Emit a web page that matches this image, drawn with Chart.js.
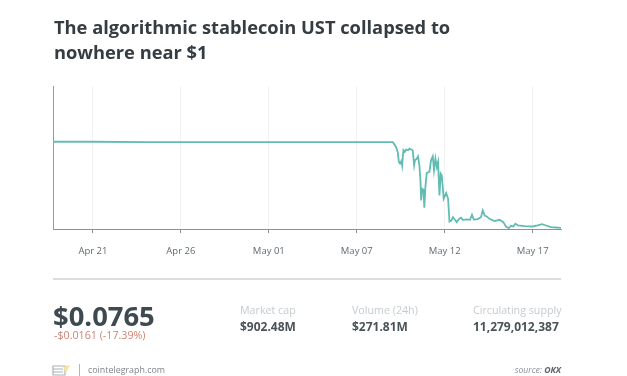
<!DOCTYPE html>
<html>
<head>
<meta charset="utf-8">
<script src="https://cdn.jsdelivr.net/npm/chart.js@4"></script>
<style>
  html, body { margin: 0; padding: 0; background: #fff; }
  body { width: 627px; height: 376px; position: relative; overflow: hidden; font-family: "Open Sans", sans-serif; }
  canvas { position: absolute; left: 0; top: 0; }
  .t { position: absolute; white-space: nowrap; line-height: 1; }
  .head { left: 54px; font-size: 18.3px; font-weight: 700; color: #353d42; }
  .lab { top: 305px; font-size: 10.7px; color: #c5cbcf; }
  .val { top: 321px; font-size: 12px; font-weight: 700; color: #4a5358; }
  #rule { position: absolute; left: 53px; top: 278px; width: 508px; height: 1.5px; background: #dcdcdc; }
  #sep { position: absolute; left: 79px; top: 364px; width: 1px; height: 12px; background: #b5b5b5; }
</style>
</head>
<body>
<canvas id="c" width="627" height="376"></canvas>
<div class="t head" style="top:18px">The algorithmic stablecoin UST collapsed to</div>
<div class="t head" style="top:43px">nowhere near $1</div>
<div id="rule"></div>
<div class="t" style="left:53px;top:302px;font-size:27.4px;font-weight:700;color:#3f4a50">$0.0765</div>
<div class="t" style="left:54px;top:330px;font-size:10.7px;color:#d08272">-$0.0161 (-17.39%)</div>
<div class="t lab" style="left:240px">Market cap</div>
<div class="t val" style="left:240px">$902.48M</div>
<div class="t lab" style="left:352px">Volume (24h)</div>
<div class="t val" style="left:352px">$271.81M</div>
<div class="t lab" style="left:473px">Circulating supply</div>
<div class="t val" style="left:473px">11,279,012,387</div>
<svg style="position:absolute;left:52px;top:364px" width="19" height="12">
  <path d="M1 2 H13 V11 H1 Z" fill="none" stroke="#aab2b5" stroke-width="1.2"/>
  <path d="M1 5 H11 M1 8 H11" stroke="#aab2b5" stroke-width="1"/>
  <path d="M11 3 L18 1 L14 9 Z" fill="#f4e3a1"/>
</svg>
<div id="sep"></div>
<div class="t" style="left:88px;top:366px;font-size:8.9px;color:#7d868a">cointelegraph.com</div>
<div class="t" style="right:66px;top:366px;font-size:8.6px;font-style:italic;color:#8a9195">source: <b style="color:#5a6367">OKX</b></div>
<script>
// x values are days counted from the first tick, y values are price in USD
const days = [-2.27, 0, 3, 5, 10, 15, 16.29, 17.05, 17.23, 17.33, 17.39, 17.46, 17.54, 17.58, 17.65, 17.73, 17.80, 17.92, 17.99,
  18.18, 18.26, 18.31, 18.41, 18.48, 18.56, 18.62, 18.66, 18.71, 18.79, 18.84, 18.90, 18.98, 19.13, 19.22, 19.32, 19.39, 19.47,
  19.55, 19.62, 19.70, 19.77, 19.83, 19.94, 20.08, 20.19, 20.27, 20.38, 20.47, 20.57, 20.68, 20.83, 20.93, 21.02, 21.31, 21.44,
  21.55, 21.65, 21.88, 22.06, 22.16, 22.27, 22.39, 22.54, 22.82, 23.11, 23.33, 23.48, 23.64, 23.77, 23.90, 24.02, 24.17, 24.53,
  25.0, 25.28, 25.53, 25.76, 26.04, 26.33, 26.61];
const prices = [1.005, 1.005, 1.002, 1.0, 1.0, 1.0, 1.0, 1.0, 0.949, 0.896, 0.788, 0.769, 0.798, 0.751, 0.913, 0.895, 0.921, 0.913, 0.931,
  0.913, 0.751, 0.805, 0.823, 0.848, 0.751, 0.588, 0.372, 0.498, 0.487, 0.292, 0.516, 0.668, 0.679, 0.805, 0.848, 0.697, 0.823,
  0.733, 0.787, 0.426, 0.661, 0.643, 0.390, 0.451, 0.390, 0.144, 0.155, 0.191, 0.166, 0.137, 0.173, 0.184, 0.162, 0.166, 0.162,
  0.217, 0.166, 0.170, 0.191, 0.264, 0.209, 0.199, 0.173, 0.148, 0.162, 0.137, 0.090, 0.072, 0.097, 0.090, 0.119, 0.101, 0.094,
  0.090, 0.101, 0.116, 0.101, 0.083, 0.079, 0.076];
const tickDays = [0, 5, 10, 15, 20, 25];
const tickLabels = ['Apr 21', 'Apr 26', 'May 01', 'May 07', 'May 12', 'May 17'];

new Chart(document.getElementById('c').getContext('2d'), {
  type: 'line',
  data: {
    datasets: [{
      data: days.map((d, i) => ({ x: d, y: prices[i] })),
      borderColor: '#62bcb2',
      borderWidth: 1.8,
      pointRadius: 0,
      tension: 0,
    }],
  },
  options: {
    responsive: false,
    animation: false,
    layout: { padding: { left: 53, right: 66, top: 86, bottom: 0 } },
    plugins: { legend: { display: false }, tooltip: { enabled: false } },
    scales: {
      x: {
        type: 'linear',
        min: -2.27,
        max: 26.61,
        afterBuildTicks: (scale) => { scale.ticks = tickDays.map((v) => ({ value: v })); },
        afterFit: (scale) => { scale.height = 147; },
        grid: { color: '#f1f1f1', tickColor: '#8a9498', tickLength: 4 },
        border: { color: '#8a9498', width: 1 },
        ticks: {
          autoSkip: false,
          maxRotation: 0,
          padding: 13,
          color: '#5f6b70',
          font: { family: 'Open Sans', size: 9.5 },
          callback: (v) => tickLabels[tickDays.indexOf(v)],
        },
      },
      y: {
        min: 0.063,
        max: 1.607,
        afterFit: (scale) => { scale.width = 0; },
        grid: { display: false },
        border: { color: '#9a9a9a', width: 1 },
        ticks: { display: false },
      },
    },
  },
});
</script>
</body>
</html>
